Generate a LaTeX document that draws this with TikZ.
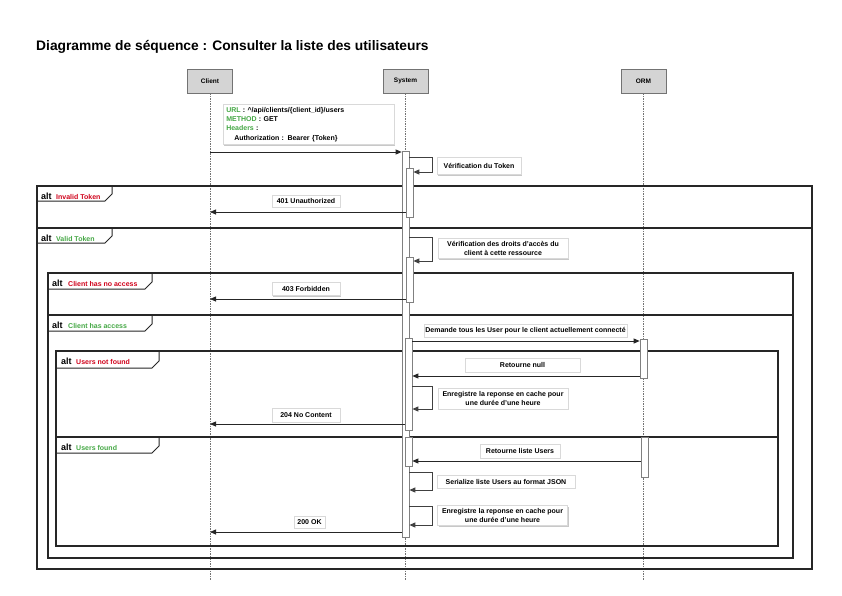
\documentclass[tikz,border=0pt]{standalone}
\usepackage{fontspec}
\setmainfont{Liberation Sans}
\usetikzlibrary{arrows.meta,shadows}
\definecolor{okgreen}{HTML}{45A845}
\definecolor{errred}{HTML}{D0021B}
\tikzset{
  part/.style={draw=black!55, fill=black!17, line width=0.8pt, minimum width=45pt, minimum height=24pt, inner sep=0pt, font=\bfseries\fontsize{6.5}{7}\selectfont},
  lifeline/.style={draw=black!55, line width=0.7pt, dash pattern=on 1.5pt off 1pt},
  actbar/.style={draw=black!50, fill=white, line width=0.7pt, minimum width=7pt, inner sep=0pt},
  msg/.style={draw=black!85, line width=0.8pt, -{Triangle[length=6pt,width=5pt]}},
  selfmsg/.style={draw=black!75, line width=1pt, -{Triangle[length=6pt,width=5pt]}},
  lbl/.style={draw=black!15, fill=white, line width=0.5pt, inner sep=1pt, align=center, font=\bfseries\fontsize{7}{9}\selectfont, drop shadow={shadow xshift=1pt, shadow yshift=-1pt, opacity=0.3, fill=black!70}},
  frm/.style={draw=black!85, line width=1.4pt},
  tabline/.style={draw=black!85, line width=1pt},
  altkw/.style={anchor=base west, inner sep=0pt, font=\bfseries\fontsize{9}{10}\selectfont},
  condred/.style={anchor=base west, inner sep=0pt, text=errred, font=\bfseries\fontsize{7}{8}\selectfont},
  condgreen/.style={anchor=base west, inner sep=0pt, text=okgreen, font=\bfseries\fontsize{7}{8}\selectfont}
}
\begin{document}
\begin{tikzpicture}[x=1pt,y=-1pt]
\useasboundingbox (0,0) rectangle (842,595);
\fill[white] (0,0) rectangle (842,595);

% title
\node[anchor=base west, inner sep=0pt, font=\bfseries\fontsize{13.8}{16}\selectfont] (title) at (36,50) {Diagramme de séquence : Consulter la liste des utilisateurs};

% participants
\node[part] (cl) at (210,81) {Client};
\node[part] (sy) at (405.5,81) {System};
\node[part] (orm) at (643.5,81) {ORM};
\coordinate (clend) at (210,580);
\coordinate (syend) at (405.5,580);
\coordinate (ormend) at (643.5,580);
\draw[lifeline] (cl.south) -- (clend);
\draw[lifeline] (sy.south) -- (syend);
\draw[lifeline] (orm.south) -- (ormend);

% frames
\draw[frm] (37,186) rectangle (812,569);
\draw[frm] (37,228) -- (812,228);
\draw[tabline] (37,201) -- (105,201) -- (112,194) -- (112,186);
\node[altkw] (alt1) at (41,199) {alt};
\node[condred] (c1) at (56,199) {Invalid Token};
\draw[tabline] (37,243) -- (105,243) -- (112,236) -- (112,228);
\node[altkw] (alt2) at (41,241) {alt};
\node[condgreen] (c2) at (56,241) {Valid Token};

\draw[frm] (48,273) rectangle (793,558);
\draw[frm] (48,315) -- (793,315);
\draw[tabline] (48,289) -- (145,289) -- (152,282) -- (152,273);
\node[altkw] (alt3) at (52,286) {alt};
\node[condred] (c3) at (68,286) {Client has no access};
\draw[tabline] (48,331) -- (145,331) -- (152,324) -- (152,315);
\node[altkw] (alt4) at (52,328) {alt};
\node[condgreen] (c4) at (68,328) {Client has access};

\draw[frm] (56,351) rectangle (778,546);
\draw[frm] (56,437) -- (778,437);
\draw[tabline] (56,368) -- (152,368) -- (159,361) -- (159,351);
\node[altkw] (alt5) at (61,364) {alt};
\node[condred] (c5) at (76,364) {Users not found};
\draw[tabline] (56,453) -- (152,453) -- (159,446) -- (159,437);
\node[altkw] (alt6) at (61,450) {alt};
\node[condgreen] (c6) at (76,450) {Users found};

% activation bars
\node[actbar, minimum height=386pt] (sysA) at (405.5,344) {};
\node[actbar, minimum height=49pt] (sysB) at (409.5,192.5) {};
\node[actbar, minimum height=45pt] (sysC) at (409.5,279.5) {};
\node[actbar, minimum height=92pt] (sysD) at (408.5,384) {};
\node[actbar, minimum height=29pt] (sysE) at (408.5,451.5) {};
\node[actbar, minimum height=39pt] (ormA) at (643.5,358.5) {};
\node[actbar, minimum height=40pt] (ormB) at (644.5,457) {};

% note
\node[draw=black!15, fill=white, line width=0.5pt, anchor=north west, text width=165pt, minimum height=40pt, inner xsep=3pt, inner ysep=3pt, align=left, font=\bfseries\fontsize{7}{9.3}\selectfont, drop shadow={shadow xshift=1pt, shadow yshift=-1pt, opacity=0.3, fill=black!70}] (note) at (223,104)
 {\textcolor{okgreen}{URL} : \textasciicircum/api/clients/\{client\_id\}/users\\
  \textcolor{okgreen}{METHOD} : GET\\
  \textcolor{okgreen}{Headers} :\\
  \hspace*{8pt}Authorization : Bearer \{Token\}};

% messages
\draw[msg] (cl |- 0,152) -- (sysA.west |- 0,152);
\draw[selfmsg] (sysA.east |- 0,157) -| (432,172) -- (sysB.east |- 0,172);
\node[lbl, minimum width=84pt, minimum height=17pt] (l1) at (479,166) {Vérification du Token};

\node[lbl, minimum width=68pt, minimum height=12pt] (l2) at (306,201) {401 Unauthorized};
\draw[msg] (sysB.west |- 0,212) -- (cl |- 0,212);

\draw[selfmsg] (sysA.east |- 0,237) -| (432,261) -- (sysC.east |- 0,261);
\node[lbl, minimum width=130pt, minimum height=20pt] (l3) at (503,248.5) {Vérification des droits d'accès du\\client à cette ressource};

\node[lbl, minimum width=68pt, minimum height=13pt] (l4) at (306,289) {403 Forbidden};
\draw[msg] (sysC.west |- 0,299) -- (cl |- 0,299);

\node[lbl, minimum width=203pt, minimum height=13pt] (l5) at (525.5,330.5) {Demande tous les User pour le client actuellement connecté};
\draw[msg] (sysD.east |- 0,341) -- (ormA.west |- 0,341);

\node[lbl, minimum width=115pt, minimum height=14pt] (l6) at (522.5,365) {Retourne null};
\draw[msg] (ormA.west |- 0,376) -- (sysD.east |- 0,376);

\draw[selfmsg] (sysD.east |- 0,386) -| (432,409) -- (sysD.east |- 0,409);
\node[lbl, minimum width=130pt, minimum height=21pt] (l7) at (503,398.5) {Enregistre la reponse en cache pour\\une durée d'une heure};

\node[lbl, minimum width=68pt, minimum height=14pt] (l8) at (306,415) {204 No Content};
\draw[msg] (sysD.west |- 0,424) -- (cl |- 0,424);

\node[lbl, minimum width=80pt, minimum height=14pt] (l9) at (520,451) {Retourne liste Users};
\draw[msg] (ormB.west |- 0,461) -- (sysE.east |- 0,461);

\draw[selfmsg] (sysA.east |- 0,472) -| (432,490) -- (sysA.east |- 0,490);
\node[lbl, minimum width=138pt, minimum height=13pt] (l10) at (506,481.5) {Serialize liste Users au format JSON};

\draw[selfmsg] (sysA.east |- 0,506) -| (432,525) -- (sysA.east |- 0,525);
\node[lbl, minimum width=130pt, minimum height=20pt] (l11) at (502.5,515.5) {Enregistre la reponse en cache pour\\une durée d'une heure};

\node[lbl, minimum width=31pt, minimum height=12pt] (l12) at (309.5,522) {200 OK};
\draw[msg] (sysA.west |- 0,532) -- (cl |- 0,532);
\end{tikzpicture}
\end{document}
